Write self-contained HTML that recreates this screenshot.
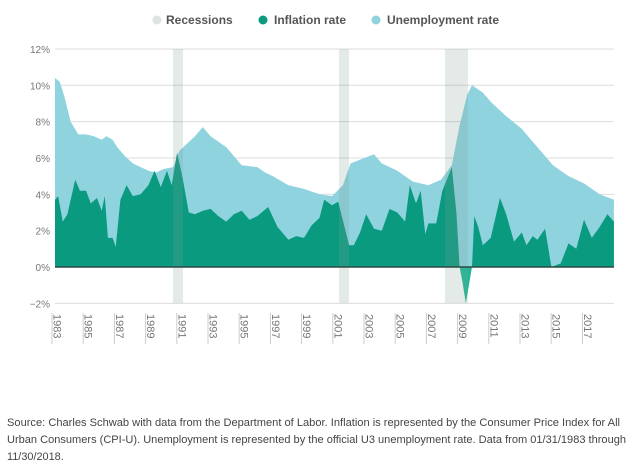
<!DOCTYPE html>
<html><head><meta charset="utf-8"><style>
body{margin:0;background:#fff;width:636px;height:469px;overflow:hidden;font-family:"Liberation Sans",sans-serif}
</style></head><body>
<svg id="s" width="636" height="469" xmlns="http://www.w3.org/2000/svg" style="position:absolute;left:0;top:0">
<g font-size="12" fill="#555" font-weight="bold">
<circle cx="157" cy="20" r="4.5" fill="#dde5e2"/><text x="166" y="24">Recessions</text>
<circle cx="263" cy="20" r="4.5" fill="#0a9a80"/><text x="274" y="24">Inflation rate</text>
<circle cx="376" cy="20" r="4.5" fill="#8fd3df"/><text x="387" y="24">Unemployment rate</text>
</g>
<g id="grid" stroke="#dcdcdc" stroke-width="1"></g>
<g id="ylab" font-size="10" fill="#777" text-anchor="end"></g>
<path id="un" fill="#8fd3df"/>
<path id="inf" fill="#0a9a80"/>
<path id="neg" fill="#1fb896"/>
<g id="rec" fill="#7f9f92" opacity="0.22"></g>
<line x1="55" x2="614" y1="267" y2="267" stroke="#2d4a44" stroke-width="1.5"/>
<g id="xlab" font-size="11" fill="#777"></g>
<g font-size="10.9" fill="#444">
<text x="7" y="426" textLength="613" lengthAdjust="spacingAndGlyphs">Source: Charles Schwab with data from the Department of Labor. Inflation is represented by the Consumer Price Index for All</text>
<text x="7" y="443" textLength="619" lengthAdjust="spacingAndGlyphs">Urban Consumers (CPI-U). Unemployment is represented by the official U3 unemployment rate. Data from 01/31/1983 through</text>
<text x="7" y="460">11/30/2018.</text>
</g>
</svg>
<script>
var NS="http://www.w3.org/2000/svg";
function Y(v){return 267-v*18.17;}
function X(t){return 55+(t-1983)*15.56;}
function el(p,tag,a,txt){var e=document.createElementNS(NS,tag);for(var k in a)e.setAttribute(k,a[k]);if(txt)e.textContent=txt;document.getElementById(p).appendChild(e);}
for(var v=-2;v<=12;v+=2){if(v!=0)el("grid","line",{x1:55,x2:614,y1:Y(v),y2:Y(v)});el("ylab","text",{x:50,y:Y(v)+4},(v<0?"−"+(-v):v)+"%");}
var U=[[1983,10.4],[1983.3,10.2],[1983.6,9.4],[1984,8.0],[1984.5,7.3],[1985,7.3],[1985.5,7.2],[1986,7.0],[1986.3,7.2],[1986.7,7.0],[1987,6.6],[1987.5,6.1],[1988,5.7],[1989,5.3],[1989.5,5.2],[1990,5.4],[1990.6,5.5],[1991,6.4],[1991.5,6.8],[1992,7.2],[1992.5,7.7],[1993,7.2],[1994,6.6],[1994.6,6.0],[1995,5.6],[1996,5.5],[1996.5,5.2],[1997,5.0],[1998,4.5],[1999,4.3],[2000,4.0],[2000.8,3.9],[2001.5,4.5],[2002,5.7],[2003.5,6.2],[2004,5.7],[2005,5.3],[2006,4.7],[2007,4.5],[2007.8,4.8],[2008.5,5.6],[2009,7.8],[2009.5,9.5],[2009.8,10.0],[2010.5,9.6],[2011,9.1],[2012,8.3],[2013,7.6],[2014,6.6],[2015,5.6],[2016,5.0],[2017,4.6],[2018,4.0],[2018.92,3.7]];
var I=[[1983,3.7],[1983.2,3.9],[1983.5,2.5],[1983.8,2.9],[1984.3,4.8],[1984.6,4.2],[1985,4.2],[1985.3,3.5],[1985.7,3.8],[1986,3.1],[1986.2,3.9],[1986.4,1.6],[1986.7,1.6],[1986.9,1.1],[1987.2,3.7],[1987.6,4.5],[1988,3.9],[1988.5,4.0],[1989,4.5],[1989.4,5.3],[1989.8,4.4],[1990.2,5.3],[1990.5,4.5],[1990.85,6.3],[1991.2,4.9],[1991.6,3.0],[1992,2.9],[1992.5,3.1],[1993,3.2],[1993.5,2.8],[1994,2.5],[1994.5,2.9],[1995,3.1],[1995.5,2.6],[1996,2.8],[1996.7,3.3],[1997.3,2.2],[1998,1.5],[1998.5,1.7],[1999,1.6],[1999.5,2.3],[2000,2.7],[2000.3,3.7],[2000.8,3.4],[2001.2,3.6],[2001.9,1.2],[2002.2,1.2],[2002.6,1.9],[2003,2.9],[2003.5,2.1],[2004,2.0],[2004.5,3.2],[2005,3.0],[2005.5,2.5],[2005.8,4.5],[2006.2,3.5],[2006.5,4.2],[2006.8,1.8],[2007,2.4],[2007.5,2.4],[2007.9,4.2],[2008.5,5.5],[2008.8,3.0],[2009,0.0]];
var I2=[[2009.8,0],[2009.95,2.8],[2010.2,2.2],[2010.5,1.2],[2011,1.6],[2011.6,3.8],[2012,2.9],[2012.5,1.4],[2013,1.9],[2013.3,1.2],[2013.7,1.7],[2014,1.5],[2014.5,2.1],[2014.9,0.0],[2015.5,0.2],[2016,1.3],[2016.5,1.0],[2017,2.6],[2017.5,1.6],[2018,2.2],[2018.5,2.9],[2018.92,2.5]];
function area(pts){var d="M"+X(pts[0][0])+","+Y(0);pts.forEach(function(p){d+="L"+X(p[0]).toFixed(1)+","+Y(p[1]).toFixed(1);});return d+"L"+X(pts[pts.length-1][0])+","+Y(0)+"Z";}
document.getElementById("un").setAttribute("d",area(U));
document.getElementById("inf").setAttribute("d",area(I)+area(I2));
document.getElementById("neg").setAttribute("d",area([[2009,0],[2009.2,-0.9],[2009.4,-2.0],[2009.6,-1.0],[2009.8,0]]));
[[173,183],[339,349],[445,468]].forEach(function(r){el("rec","rect",{x:r[0],y:49,width:r[1]-r[0],height:254});});
for(var yr=1983;yr<=2017;yr+=2){var x=58+(yr-1983)*15.6;el("xlab","line",{x1:x-6,x2:x-6,y1:313,y2:344,stroke:"#ccc"});el("xlab","text",{x:0,y:0,transform:"translate("+(x-4.5)+",314) rotate(90)"},String(yr));}
</script>
</body></html>
